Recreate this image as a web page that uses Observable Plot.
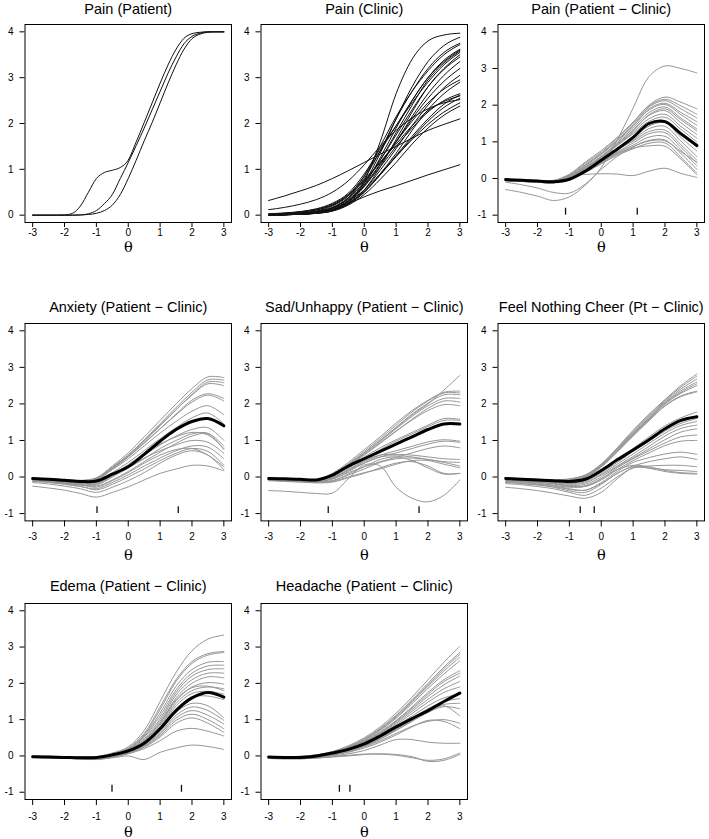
<!DOCTYPE html>
<html>
<head>
<meta charset="utf-8">
<script src="https://cdn.jsdelivr.net/npm/d3@7"></script>
<script src="https://cdn.jsdelivr.net/npm/@observablehq/plot@0.6"></script>
<style>
  html, body { margin: 0; padding: 0; background: #fff; }
  #root { position: relative; width: 709px; height: 839px; overflow: hidden; background: #fff; }
  #root svg { position: absolute; overflow: visible; }
</style>
</head>
<body>
<div id="root"></div>
<script>
// ---------- shared grids and tick labels ----------
const theta = [-3, -2.5, -2, -1.5, -1, -0.5, 0, 0.5, 1, 1.5, 2, 2.5, 3];
const thetaFine = [-3, -2.75, -2.5, -2.25, -2, -1.75, -1.5, -1.25, -1, -0.75, -0.5, -0.25, 0,
                   0.25, 0.5, 0.75, 1, 1.25, 1.5, 1.75, 2, 2.25, 2.5, 2.75, 3];
const xTicks = [-3, -2, -1, 0, 1, 2, 3];
const yTicksScore = [0, 1, 2, 3, 4];
const yTicksDiff = [-1, 0, 1, 2, 3, 4];
const titles = [
  "Pain (Patient)", "Pain (Clinic)", "Pain (Patient \u2212 Clinic)",
  "Anxiety (Patient \u2212 Clinic)", "Sad/Unhappy (Patient \u2212 Clinic)", "Feel Nothing Cheer (Pt \u2212 Clinic)",
  "Edema (Patient \u2212 Clinic)", "Headache (Patient \u2212 Clinic)"
];

// ---------- Pain (Patient): 3 expected-score curves on thetaFine ----------
const painPatientCurves = [
  [0, 0, 0, 0, 0.005, 0.04, 0.2, 0.5, 0.8, 0.93, 0.98, 1.04, 1.2, 1.6, 2.02, 2.45, 2.88, 3.28, 3.62, 3.86, 3.96, 3.99, 4, 4, 4],
  [0, 0, 0, 0, 0, 0, 0.005, 0.03, 0.1, 0.25, 0.45, 0.8, 1.15, 1.52, 1.9, 2.3, 2.7, 3.1, 3.45, 3.74, 3.9, 3.97, 4, 4, 4],
  [0, 0, 0, 0, 0, 0, 0.005, 0.015, 0.04, 0.1, 0.22, 0.45, 0.8, 1.2, 1.62, 2.02, 2.45, 2.88, 3.28, 3.62, 3.85, 3.95, 3.99, 4, 4]
];

// ---------- Pain (Clinic): curves on theta ----------
const painClinicCurves = [
  [0.01, 0.02, 0.04, 0.08, 0.17, 0.38, 0.75, 1.6, 2.65, 3.4, 3.8, 3.93, 3.97],
  [0.32, 0.42, 0.53, 0.65, 0.8, 0.97, 1.15, 1.33, 1.5, 1.68, 1.85, 1.98, 2.1],
  [0.12, 0.17, 0.24, 0.34, 0.5, 0.75, 1.1, 1.5, 1.85, 2.12, 2.32, 2.45, 2.52],
  [0.01, 0.02, 0.03, 0.06, 0.12, 0.25, 0.4, 0.53, 0.64, 0.76, 0.88, 0.99, 1.1],
  [0.0, 0.01, 0.02, 0.05, 0.12, 0.3, 0.7, 1.35, 2.1, 2.8, 3.35, 3.7, 3.88],
  [0.0, 0.01, 0.03, 0.07, 0.16, 0.38, 0.8, 1.4, 2.1, 2.7, 3.2, 3.55, 3.75],
  [0.01, 0.02, 0.04, 0.09, 0.2, 0.42, 0.85, 1.5, 2.15, 2.7, 3.15, 3.5, 3.72],
  [0.0, 0.01, 0.02, 0.04, 0.1, 0.27, 0.65, 1.25, 1.9, 2.5, 3.0, 3.38, 3.62],
  [0.02, 0.03, 0.06, 0.11, 0.22, 0.45, 0.85, 1.4, 1.95, 2.5, 3.0, 3.35, 3.6],
  [0.0, 0.01, 0.02, 0.05, 0.12, 0.3, 0.7, 1.2, 1.8, 2.4, 2.95, 3.32, 3.58],
  [0.03, 0.05, 0.08, 0.14, 0.26, 0.48, 0.9, 1.45, 1.95, 2.45, 2.9, 3.28, 3.55],
  [0.0, 0.01, 0.02, 0.04, 0.09, 0.24, 0.55, 1.05, 1.65, 2.25, 2.8, 3.2, 3.5],
  [0.01, 0.02, 0.04, 0.08, 0.16, 0.36, 0.72, 1.2, 1.75, 2.3, 2.8, 3.18, 3.45],
  [0.0, 0.01, 0.03, 0.06, 0.12, 0.3, 0.62, 1.1, 1.6, 2.15, 2.65, 3.05, 3.35],
  [0.01, 0.02, 0.04, 0.08, 0.15, 0.32, 0.65, 1.12, 1.6, 2.1, 2.55, 2.92, 3.2],
  [0.0, 0.01, 0.02, 0.05, 0.11, 0.26, 0.55, 0.98, 1.45, 1.95, 2.4, 2.78, 3.05],
  [0.02, 0.04, 0.07, 0.12, 0.22, 0.42, 0.75, 1.15, 1.6, 2.05, 2.45, 2.75, 2.95],
  [0.0, 0.01, 0.02, 0.05, 0.1, 0.24, 0.5, 0.9, 1.35, 1.85, 2.3, 2.65, 2.9],
  [0.01, 0.02, 0.04, 0.08, 0.16, 0.34, 0.65, 1.05, 1.5, 1.9, 2.25, 2.5, 2.65],
  [0.0, 0.01, 0.02, 0.05, 0.1, 0.25, 0.5, 0.88, 1.3, 1.72, 2.1, 2.42, 2.62],
  [0.02, 0.04, 0.07, 0.13, 0.24, 0.45, 0.78, 1.15, 1.55, 1.95, 2.28, 2.48, 2.6],
  [0.0, 0.01, 0.03, 0.06, 0.12, 0.27, 0.52, 0.88, 1.28, 1.68, 2.05, 2.35, 2.55],
  [0.01, 0.02, 0.04, 0.07, 0.14, 0.3, 0.55, 0.9, 1.28, 1.65, 1.98, 2.25, 2.45],
  [0.0, 0.01, 0.02, 0.04, 0.09, 0.22, 0.45, 0.78, 1.15, 1.55, 1.9, 2.18, 2.38]
];

// ---------- Pain (Patient - Clinic) ----------
const painDiffCurves = [
  [-0.02, -0.04, -0.06, -0.06, 0.1, 0.42, 0.72, 1.1, 1.52, 2.0, 2.22, 2.08, 1.9],
  [-0.04, -0.06, -0.08, -0.09, 0.08, 0.38, 0.68, 1.05, 1.47, 1.95, 2.12, 1.9, 1.65],
  [-0.05, -0.07, -0.09, -0.1, 0.06, 0.35, 0.65, 1.02, 1.42, 1.9, 2.05, 1.8, 1.55],
  [-0.03, -0.05, -0.07, -0.08, 0.08, 0.37, 0.68, 1.05, 1.44, 1.87, 2.02, 1.74, 1.45],
  [-0.06, -0.08, -0.1, -0.12, 0.04, 0.3, 0.6, 0.98, 1.37, 1.8, 1.95, 1.65, 1.35],
  [-0.04, -0.06, -0.08, -0.09, 0.06, 0.32, 0.6, 0.95, 1.32, 1.72, 1.85, 1.52, 1.2],
  [-0.05, -0.07, -0.09, -0.11, 0.03, 0.27, 0.55, 0.9, 1.26, 1.63, 1.75, 1.42, 1.1],
  [-0.03, -0.05, -0.07, -0.08, 0.05, 0.3, 0.57, 0.9, 1.22, 1.56, 1.67, 1.34, 1.0],
  [-0.06, -0.08, -0.1, -0.12, 0.01, 0.24, 0.5, 0.82, 1.14, 1.48, 1.58, 1.22, 0.85],
  [-0.04, -0.06, -0.08, -0.1, 0.03, 0.26, 0.52, 0.82, 1.12, 1.43, 1.52, 1.12, 0.75],
  [-0.05, -0.07, -0.09, -0.11, 0.0, 0.22, 0.48, 0.78, 1.05, 1.36, 1.42, 1.02, 0.6],
  [-0.03, -0.05, -0.07, -0.09, 0.02, 0.25, 0.5, 0.78, 1.02, 1.28, 1.32, 0.92, 0.5],
  [-0.06, -0.08, -0.1, -0.12, -0.02, 0.2, 0.45, 0.72, 0.97, 1.22, 1.25, 0.85, 0.42],
  [-0.04, -0.06, -0.08, -0.1, 0.0, 0.2, 0.44, 0.7, 0.91, 1.13, 1.15, 0.77, 0.35],
  [-0.05, -0.07, -0.09, -0.11, -0.02, 0.18, 0.42, 0.66, 0.87, 1.04, 1.05, 0.68, 0.25],
  [-0.04, -0.06, -0.08, -0.1, -0.03, 0.16, 0.4, 0.63, 0.81, 0.96, 0.97, 0.58, 0.15],
  [-0.05, -0.07, -0.09, -0.11, 0.0, 0.22, 0.46, 0.68, 0.83, 0.89, 0.88, 0.53, 0.1],
  [-0.3, -0.38, -0.48, -0.6, -0.5, -0.18, 0.3, 1.05, 1.92, 2.78, 3.07, 3.0, 2.88],
  [-0.1, -0.17, -0.26, -0.38, -0.4, -0.15, 0.25, 0.6, 0.86, 1.02, 1.03, 0.73, 0.45],
  [-0.05, -0.07, -0.09, -0.1, 0.06, 0.11, 0.13, 0.12, 0.08, 0.2, 0.28, 0.14, 0.03],
  [-0.02, -0.04, -0.05, -0.05, 0.12, 0.45, 0.76, 1.12, 1.54, 1.98, 2.16, 1.98, 1.75],
  [-0.06, -0.08, -0.1, -0.11, 0.05, 0.3, 0.6, 0.93, 1.3, 1.74, 1.9, 1.6, 1.3]
];
const painDiffMean = [-0.03, -0.05, -0.07, -0.09, -0.02, 0.2, 0.5, 0.8, 1.12, 1.5, 1.55, 1.22, 0.9];
const painDiffRug = [-1.12, 1.13];

// ---------- Anxiety (Patient - Clinic) ----------
const anxietyCurves = [
  [-0.03, -0.05, -0.07, -0.09, -0.02, 0.3, 0.66, 1.1, 1.55, 2.0, 2.42, 2.74, 2.72],
  [-0.04, -0.06, -0.08, -0.1, -0.04, 0.26, 0.6, 1.02, 1.46, 1.9, 2.32, 2.66, 2.65],
  [-0.05, -0.07, -0.09, -0.11, -0.05, 0.24, 0.58, 0.98, 1.4, 1.84, 2.26, 2.6, 2.58],
  [-0.03, -0.05, -0.07, -0.1, -0.03, 0.27, 0.6, 1.0, 1.42, 1.84, 2.24, 2.55, 2.5],
  [-0.06, -0.08, -0.1, -0.12, -0.06, 0.22, 0.55, 0.92, 1.32, 1.72, 2.1, 2.28, 2.15],
  [-0.04, -0.06, -0.08, -0.11, -0.05, 0.24, 0.56, 0.94, 1.32, 1.7, 2.05, 2.24, 2.08],
  [-0.05, -0.07, -0.09, -0.12, -0.07, 0.2, 0.5, 0.85, 1.2, 1.52, 1.8, 1.95, 1.7],
  [-0.07, -0.09, -0.12, -0.15, -0.12, 0.12, 0.4, 0.72, 1.05, 1.35, 1.62, 1.75, 1.45],
  [-0.08, -0.1, -0.13, -0.17, -0.15, 0.06, 0.32, 0.6, 0.88, 1.12, 1.3, 1.35, 1.0],
  [-0.1, -0.13, -0.17, -0.22, -0.22, 0.0, 0.25, 0.5, 0.78, 1.0, 1.18, 1.2, 0.85],
  [-0.08, -0.11, -0.15, -0.2, -0.25, -0.08, 0.15, 0.42, 0.68, 0.92, 1.12, 1.18, 0.75],
  [-0.12, -0.15, -0.2, -0.26, -0.32, -0.15, 0.06, 0.3, 0.52, 0.72, 0.85, 0.82, 0.5],
  [-0.1, -0.14, -0.19, -0.25, -0.35, -0.2, 0.0, 0.22, 0.45, 0.65, 0.78, 0.7, 0.32],
  [-0.15, -0.19, -0.25, -0.32, -0.42, -0.28, -0.1, 0.12, 0.38, 0.6, 0.72, 0.6, 0.2],
  [-0.25, -0.3, -0.36, -0.45, -0.55, -0.42, -0.27, -0.08, 0.1, 0.22, 0.32, 0.3, 0.17],
  [-0.07, -0.1, -0.14, -0.18, -0.2, 0.02, 0.28, 0.52, 0.72, 0.88, 1.0, 0.95, 0.65],
  [-0.06, -0.09, -0.12, -0.16, -0.18, 0.05, 0.34, 0.65, 0.9, 1.1, 1.22, 1.15, 0.78],
  [-0.09, -0.12, -0.16, -0.21, -0.28, -0.1, 0.12, 0.38, 0.6, 0.75, 0.78, 0.6, 0.28]
];
const anxietyMean = [-0.04, -0.06, -0.09, -0.12, -0.11, 0.08, 0.28, 0.62, 0.98, 1.3, 1.52, 1.6, 1.4];
const anxietyRug = [-0.98, 1.57];

// ---------- Sad/Unhappy (Patient - Clinic) ----------
const sadCurves = [
  [-0.03, -0.05, -0.07, -0.09, 0.06, 0.32, 0.65, 1.0, 1.35, 1.7, 2.0, 2.38, 2.78],
  [-0.02, -0.04, -0.06, -0.07, 0.1, 0.4, 0.75, 1.1, 1.48, 1.82, 2.1, 2.32, 2.35],
  [-0.03, -0.05, -0.07, -0.09, 0.08, 0.36, 0.7, 1.05, 1.42, 1.78, 2.08, 2.3, 2.3],
  [-0.04, -0.06, -0.08, -0.1, 0.06, 0.34, 0.66, 1.0, 1.36, 1.72, 2.02, 2.25, 2.25],
  [-0.03, -0.05, -0.07, -0.09, 0.07, 0.35, 0.66, 0.98, 1.32, 1.66, 1.95, 2.15, 2.15],
  [-0.05, -0.07, -0.09, -0.11, 0.04, 0.3, 0.6, 0.92, 1.25, 1.58, 1.88, 2.08, 2.05],
  [-0.04, -0.06, -0.08, -0.1, 0.05, 0.32, 0.62, 0.94, 1.26, 1.56, 1.82, 1.98, 1.95],
  [-0.05, -0.07, -0.09, -0.11, 0.03, 0.28, 0.55, 0.8, 1.02, 1.22, 1.42, 1.6, 1.58],
  [-0.06, -0.08, -0.1, -0.12, 0.0, 0.24, 0.5, 0.75, 0.98, 1.18, 1.38, 1.55, 1.55],
  [-0.06, -0.08, -0.1, -0.12, -0.02, 0.2, 0.42, 0.6, 0.72, 0.84, 0.96, 1.02, 0.98],
  [-0.05, -0.07, -0.09, -0.11, -0.03, 0.18, 0.38, 0.55, 0.66, 0.78, 0.9, 0.98, 0.95],
  [-0.07, -0.09, -0.11, -0.13, -0.05, 0.12, 0.28, 0.42, 0.54, 0.66, 0.78, 0.85, 0.8],
  [-0.06, -0.08, -0.1, -0.12, -0.04, 0.2, 0.45, 0.6, 0.62, 0.6, 0.55, 0.5, 0.48],
  [-0.07, -0.09, -0.11, -0.13, -0.06, 0.15, 0.38, 0.55, 0.58, 0.55, 0.48, 0.42, 0.4],
  [-0.08, -0.1, -0.12, -0.14, -0.1, 0.05, 0.22, 0.4, 0.5, 0.52, 0.48, 0.4, 0.3],
  [-0.09, -0.11, -0.13, -0.15, -0.12, 0.0, 0.12, 0.22, 0.35, 0.45, 0.45, 0.35, 0.25],
  [-0.08, -0.1, -0.12, -0.14, -0.1, 0.08, 0.28, 0.48, 0.55, 0.45, 0.25, 0.08, 0.1],
  [-0.1, -0.12, -0.14, -0.16, -0.14, -0.02, 0.1, 0.25, 0.38, 0.42, 0.3, 0.1, 0.1],
  [-0.37, -0.39, -0.42, -0.45, -0.44, -0.05, 0.33, 0.3, -0.28, -0.58, -0.68, -0.5, -0.08]
];
const sadMean = [-0.04, -0.05, -0.06, -0.08, 0.05, 0.3, 0.5, 0.7, 0.9, 1.1, 1.3, 1.45, 1.45];
const sadRug = [-1.13, 1.72];

// ---------- Feel Nothing Cheer (Pt - Clinic) ----------
const feelCurves = [
  [-0.02, -0.04, -0.06, -0.08, -0.05, 0.06, 0.36, 0.8, 1.28, 1.72, 2.12, 2.5, 2.82],
  [-0.03, -0.05, -0.07, -0.09, -0.06, 0.05, 0.34, 0.78, 1.25, 1.69, 2.1, 2.46, 2.76],
  [-0.03, -0.05, -0.07, -0.09, -0.07, 0.04, 0.33, 0.76, 1.22, 1.66, 2.07, 2.41, 2.68],
  [-0.04, -0.06, -0.08, -0.1, -0.08, 0.03, 0.32, 0.74, 1.2, 1.63, 2.04, 2.36, 2.6],
  [-0.04, -0.06, -0.08, -0.1, -0.09, 0.02, 0.31, 0.72, 1.18, 1.61, 2.02, 2.32, 2.55],
  [-0.05, -0.07, -0.09, -0.11, -0.1, 0.01, 0.3, 0.71, 1.16, 1.59, 2.0, 2.29, 2.5],
  [-0.05, -0.07, -0.09, -0.11, -0.1, 0.0, 0.29, 0.7, 1.14, 1.56, 1.96, 2.22, 2.35],
  [-0.06, -0.08, -0.1, -0.12, -0.12, -0.02, 0.27, 0.68, 1.12, 1.54, 1.94, 2.2, 2.33],
  [-0.05, -0.07, -0.09, -0.12, -0.14, -0.08, 0.15, 0.45, 0.78, 1.1, 1.4, 1.62, 1.78],
  [-0.06, -0.08, -0.1, -0.13, -0.16, -0.1, 0.12, 0.4, 0.7, 0.98, 1.26, 1.47, 1.6],
  [-0.07, -0.09, -0.11, -0.14, -0.18, -0.13, 0.08, 0.35, 0.63, 0.92, 1.2, 1.41, 1.52],
  [-0.08, -0.1, -0.12, -0.15, -0.2, -0.16, 0.05, 0.3, 0.56, 0.84, 1.12, 1.33, 1.42],
  [-0.08, -0.1, -0.13, -0.17, -0.23, -0.2, 0.0, 0.28, 0.52, 0.77, 1.02, 1.23, 1.32],
  [-0.1, -0.12, -0.15, -0.19, -0.26, -0.24, -0.05, 0.25, 0.5, 0.72, 0.93, 1.1, 1.15],
  [-0.09, -0.11, -0.14, -0.18, -0.25, -0.26, -0.08, 0.2, 0.45, 0.66, 0.86, 0.98, 1.0],
  [-0.12, -0.15, -0.19, -0.24, -0.32, -0.36, -0.15, 0.15, 0.4, 0.53, 0.63, 0.68, 0.62],
  [-0.15, -0.18, -0.22, -0.28, -0.38, -0.42, -0.2, 0.1, 0.3, 0.42, 0.5, 0.55, 0.48],
  [-0.18, -0.21, -0.26, -0.32, -0.42, -0.5, -0.3, 0.0, 0.25, 0.3, 0.32, 0.32, 0.28],
  [-0.28, -0.32, -0.37, -0.44, -0.52, -0.58, -0.42, -0.05, 0.25, 0.25, 0.2, 0.18, 0.15],
  [-0.1, -0.13, -0.17, -0.22, -0.28, -0.25, -0.05, 0.2, 0.32, 0.28, 0.18, 0.12, 0.1],
  [-0.14, -0.17, -0.21, -0.26, -0.34, -0.36, -0.18, 0.1, 0.28, 0.24, 0.15, 0.1, 0.08]
];
const feelMean = [-0.04, -0.06, -0.08, -0.1, -0.12, -0.06, 0.18, 0.47, 0.74, 1.02, 1.32, 1.55, 1.65];
const feelRug = [-0.66, -0.22];

// ---------- Edema (Patient - Clinic) ----------
const edemaCurves = [
  [0.0, -0.01, -0.02, -0.03, -0.02, 0.08, 0.25, 0.7, 1.5, 2.3, 2.9, 3.22, 3.33],
  [0.0, -0.01, -0.02, -0.03, -0.02, 0.07, 0.22, 0.62, 1.35, 2.1, 2.6, 2.82, 2.88],
  [-0.01, -0.02, -0.03, -0.04, -0.03, 0.06, 0.2, 0.58, 1.28, 2.05, 2.55, 2.78, 2.85],
  [-0.01, -0.02, -0.03, -0.04, -0.03, 0.05, 0.2, 0.55, 1.18, 1.92, 2.38, 2.58, 2.6],
  [-0.01, -0.02, -0.03, -0.04, -0.04, 0.04, 0.18, 0.52, 1.1, 1.82, 2.28, 2.48, 2.5],
  [-0.02, -0.03, -0.04, -0.05, -0.04, 0.04, 0.17, 0.48, 1.02, 1.75, 2.2, 2.38, 2.4],
  [-0.02, -0.03, -0.04, -0.05, -0.05, 0.03, 0.16, 0.45, 0.96, 1.68, 2.1, 2.28, 2.28],
  [-0.02, -0.03, -0.04, -0.05, -0.05, 0.02, 0.14, 0.42, 0.9, 1.6, 2.0, 2.18, 2.15],
  [-0.02, -0.03, -0.04, -0.05, -0.06, 0.02, 0.13, 0.4, 0.85, 1.52, 1.9, 2.02, 1.98],
  [-0.02, -0.03, -0.04, -0.06, -0.06, 0.01, 0.12, 0.38, 0.8, 1.45, 1.8, 1.9, 1.85],
  [-0.03, -0.04, -0.05, -0.06, -0.07, 0.0, 0.12, 0.36, 0.76, 1.38, 1.72, 1.78, 1.7],
  [-0.03, -0.04, -0.05, -0.06, -0.07, 0.0, 0.11, 0.34, 0.72, 1.3, 1.62, 1.65, 1.55],
  [-0.03, -0.04, -0.05, -0.07, -0.08, -0.01, 0.1, 0.32, 0.68, 1.2, 1.45, 1.38, 1.05],
  [-0.03, -0.04, -0.05, -0.07, -0.08, -0.02, 0.1, 0.3, 0.64, 1.12, 1.35, 1.25, 0.98],
  [-0.03, -0.05, -0.06, -0.07, -0.09, -0.02, 0.09, 0.28, 0.6, 1.05, 1.25, 1.12, 0.88],
  [-0.04, -0.05, -0.06, -0.08, -0.09, -0.03, 0.08, 0.26, 0.56, 0.98, 1.15, 1.0, 0.75],
  [-0.04, -0.05, -0.06, -0.08, -0.1, -0.04, 0.07, 0.24, 0.52, 0.9, 1.05, 0.9, 0.65],
  [-0.04, -0.05, -0.07, -0.08, -0.1, -0.04, 0.06, 0.2, 0.42, 0.68, 0.76, 0.68, 0.55],
  [-0.04, -0.05, -0.06, -0.07, -0.07, -0.05, 0.0, -0.1, 0.1, 0.22, 0.3, 0.26, 0.18],
  [-0.02, -0.03, -0.04, -0.05, -0.05, 0.03, 0.15, 0.42, 0.9, 1.55, 1.88, 1.92, 1.8]
];
const edemaMean = [-0.02, -0.03, -0.04, -0.05, -0.04, 0.03, 0.14, 0.35, 0.75, 1.25, 1.6, 1.75, 1.62];
const edemaRug = [-0.51, 1.67];

// ---------- Headache (Patient - Clinic) ----------
const headacheCurves = [
  [-0.02, -0.02, -0.01, 0.03, 0.12, 0.28, 0.5, 0.8, 1.18, 1.62, 2.1, 2.58, 3.02],
  [-0.02, -0.02, -0.01, 0.03, 0.11, 0.26, 0.47, 0.76, 1.12, 1.55, 2.0, 2.45, 2.85],
  [-0.03, -0.03, -0.02, 0.02, 0.1, 0.25, 0.45, 0.74, 1.1, 1.52, 1.96, 2.4, 2.8],
  [-0.03, -0.03, -0.02, 0.02, 0.1, 0.24, 0.44, 0.72, 1.07, 1.48, 1.92, 2.34, 2.72],
  [-0.03, -0.03, -0.02, 0.01, 0.09, 0.23, 0.42, 0.7, 1.04, 1.44, 1.86, 2.26, 2.62],
  [-0.03, -0.03, -0.02, 0.01, 0.09, 0.22, 0.4, 0.66, 0.98, 1.35, 1.75, 2.1, 2.35],
  [-0.04, -0.04, -0.03, 0.0, 0.08, 0.21, 0.39, 0.64, 0.96, 1.32, 1.7, 2.05, 2.28],
  [-0.04, -0.04, -0.03, 0.0, 0.08, 0.2, 0.38, 0.62, 0.93, 1.28, 1.64, 1.96, 2.2],
  [-0.04, -0.04, -0.03, 0.0, 0.07, 0.19, 0.36, 0.6, 0.9, 1.23, 1.56, 1.85, 2.05],
  [-0.04, -0.05, -0.04, -0.01, 0.07, 0.18, 0.35, 0.58, 0.86, 1.17, 1.48, 1.75, 1.9],
  [-0.05, -0.05, -0.04, -0.01, 0.06, 0.17, 0.33, 0.55, 0.82, 1.1, 1.38, 1.6, 1.7],
  [-0.05, -0.05, -0.04, -0.02, 0.05, 0.16, 0.31, 0.52, 0.78, 1.05, 1.3, 1.5, 1.58],
  [-0.05, -0.06, -0.05, -0.02, 0.05, 0.15, 0.3, 0.5, 0.74, 1.0, 1.25, 1.42, 1.45],
  [-0.05, -0.06, -0.05, -0.03, 0.04, 0.14, 0.28, 0.48, 0.72, 0.97, 1.2, 1.36, 1.3],
  [-0.06, -0.06, -0.06, -0.03, 0.03, 0.13, 0.27, 0.46, 0.7, 0.95, 1.2, 1.38, 1.1],
  [-0.06, -0.07, -0.06, -0.04, 0.02, 0.12, 0.25, 0.42, 0.62, 0.82, 0.95, 1.0, 0.9],
  [-0.06, -0.07, -0.07, -0.04, 0.02, 0.1, 0.22, 0.38, 0.58, 0.8, 0.98, 0.95, 0.75],
  [-0.06, -0.07, -0.07, -0.05, 0.0, 0.06, 0.15, 0.3, 0.45, 0.45, 0.38, 0.35, 0.35],
  [-0.07, -0.08, -0.08, -0.06, -0.02, 0.02, 0.05, 0.05, 0.02, -0.05, -0.12, -0.08, 0.08],
  [-0.07, -0.08, -0.08, -0.06, -0.03, 0.0, 0.04, 0.06, 0.04, -0.02, -0.15, -0.12, 0.04]
];
const headacheMean = [-0.03, -0.04, -0.04, 0.0, 0.08, 0.18, 0.33, 0.55, 0.8, 1.03, 1.25, 1.5, 1.73];
const headacheRug = [-0.78, -0.45];

// ---------- panel definitions ----------
const panels = [
  {title: titles[0], curves: painPatientCurves, grid: thetaFine, kind: "score"},
  {title: titles[1], curves: painClinicCurves, grid: theta, kind: "score"},
  {title: titles[2], curves: painDiffCurves, grid: theta, mean: painDiffMean, rug: painDiffRug, kind: "diff"},
  {title: titles[3], curves: anxietyCurves, grid: theta, mean: anxietyMean, rug: anxietyRug, kind: "diff"},
  {title: titles[4], curves: sadCurves, grid: theta, mean: sadMean, rug: sadRug, kind: "diff"},
  {title: titles[5], curves: feelCurves, grid: theta, mean: feelMean, rug: feelRug, kind: "diff"},
  {title: titles[6], curves: edemaCurves, grid: theta, mean: edemaMean, rug: edemaRug, kind: "diff"},
  {title: titles[7], curves: headacheCurves, grid: theta, mean: headacheMean, rug: headacheRug, kind: "diff"}
];

// layout of the three rows (frame positions measured on the page)
const rowLayout = [
  {frameTop: 24,    frameH: 198,   tickSize: 5, tickPad: 1.5, thetaDy: 25, titleDy: -10.5},
  {frameTop: 323.3, frameH: 197.4, tickSize: 6, tickPad: 6.4, thetaDy: 34, titleDy: -11.6},
  {frameTop: 603.3, frameH: 196,   tickSize: 6, tickPad: 7,   thetaDy: 33, titleDy: -12.3}
];
const colLeft = [0, 236, 473];

const sans = "'Liberation Sans', Arial, Helvetica, sans-serif";
const fmt = d => String(d);
const root = document.getElementById("root");
const MT = 30, MB = 44;

function toRows(curves, grid) {
  return curves.flatMap((c, i) => c.map((v, j) => ({id: i, theta: grid[j], value: v})));
}

panels.forEach((p, k) => {
  const row = Math.floor(k / 3), col = k % 3;
  const L = rowLayout[row];
  const isDiff = p.kind === "diff";
  const marks = [
    Plot.line(toRows(p.curves, p.grid), {
      x: "theta", y: "value", z: "id",
      stroke: isDiff ? "#969696" : "#111",
      strokeWidth: 1,
      curve: isDiff ? "catmull-rom" : "monotone-x"
    })
  ];
  if (isDiff) {
    marks.push(Plot.line(p.grid.map((t, j) => ({theta: t, value: p.mean[j]})), {
      x: "theta", y: "value", stroke: "#000", strokeWidth: 3, curve: "catmull-rom"
    }));
    marks.push(Plot.ruleX(p.rug, {x: d => d, y1: -1.0, y2: -0.81, stroke: "#111", strokeWidth: 1.3}));
  }
  marks.push(
    Plot.frame({stroke: "#000", strokeWidth: 1}),
    Plot.axisX({ticks: xTicks, tickSize: L.tickSize, tickPadding: L.tickPad, tickFormat: fmt,
                fontSize: 10, label: null}),
    Plot.axisY({ticks: isDiff ? yTicksDiff : yTicksScore, tickSize: 5, tickPadding: 6.5, tickFormat: fmt,
                fontSize: 10, label: null}),
    Plot.text([p.title], {text: d => d, frameAnchor: "top", dy: L.titleDy, lineAnchor: "bottom",
                fontSize: 14.5, fontFamily: sans, fill: "#000"}),
    Plot.text(["\u03b8"], {text: d => d, frameAnchor: "bottom", dy: L.thetaDy, lineAnchor: "middle",
                fontSize: 14.5, fontFamily: "'DejaVu Serif', 'Liberation Serif', serif", fill: "#000"})
  );
  const svg = Plot.plot({
    width: 236,
    height: MT + L.frameH + MB,
    marginTop: MT, marginBottom: MB, marginLeft: 24.5, marginRight: 5,
    x: {domain: [-3.24, 3.24]},
    y: {domain: isDiff ? [-1.2, 4.2] : [-0.16, 4.16]},
    style: {fontFamily: sans, fontSize: "10px", color: "#000", background: "transparent", overflow: "visible"},
    marks
  });
  svg.style.left = colLeft[col] + "px";
  svg.style.top = (L.frameTop - MT) + "px";
  root.appendChild(svg);
});
</script>
</body>
</html>
